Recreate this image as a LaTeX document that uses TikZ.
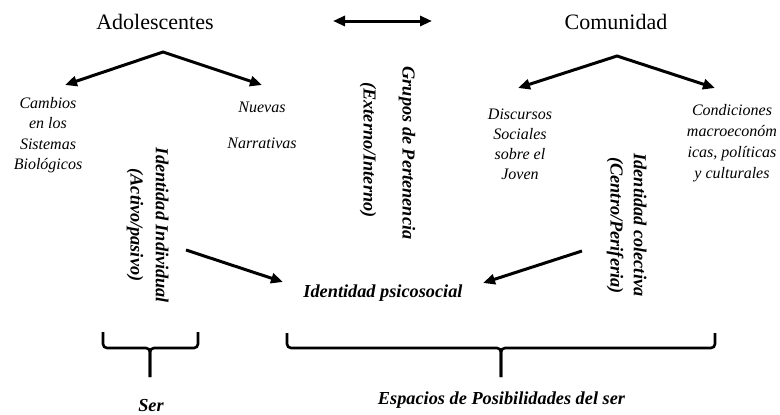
\documentclass[tikz,border=0pt]{standalone}
\usepackage{fontspec}
\setmainfont{Liberation Serif}
\usetikzlibrary{arrows.meta}
\tikzset{
  title/.style={font=\fontsize{22}{26}\selectfont, inner sep=0pt, anchor=base},
  lab/.style={font=\fontsize{16}{20.5}\selectfont\itshape, align=center, inner sep=0pt, anchor=north},
  vt/.style={font=\fontsize{18.3}{22}\selectfont\bfseries\itshape, rotate=-90, inner sep=0pt},
  bi/.style={font=\fontsize{18.3}{22}\selectfont\bfseries\itshape, inner sep=0pt, anchor=base},
  arr/.style={line width=3pt, -{Triangle[length=12pt,width=10pt]}},
  darr/.style={line width=3pt, {Triangle[length=12pt,width=10pt]}-{Triangle[length=12pt,width=10pt]}},
  brace/.style={line width=2.6pt, rounded corners=4pt}
}
\begin{document}
\begin{tikzpicture}[x=1pt,y=-1pt]
\useasboundingbox (0,0) rectangle (780,415);
% titles
\node[title] (ado) at (155,30) {Adolescentes};
\node[title] (com) at (616,30) {Comunidad};
% double arrow
\coordinate (dl) at (333,21);
\coordinate (dr) at (432,21);
\draw[darr] (dl) -- (dr);
% forks
\coordinate (apa) at (163,52);
\coordinate (al) at (65,85);
\coordinate (ar) at (262,85);
\draw[darr, line join=miter] (al) -- (apa) -- (ar);
\coordinate (apc) at (617,56);
\coordinate (cl) at (518,88);
\coordinate (cr) at (715,88);
\draw[darr, line join=miter] (cl) -- (apc) -- (cr);
% italic labels
\node[lab] (cam) at (48,97) {Cambios\\en los\\Sistemas\\Biológicos};
\node[lab] (nue) at (262,102) {Nuevas\\[15.5pt]Narrativas};
\node[lab, font=\fontsize{16}{20}\selectfont\itshape] (dis) at (520,109) {Discursos\\Sociales\\sobre el\\Joven};
\node[lab, font=\fontsize{16}{21}\selectfont\itshape] (con) at (732,104) {Condiciones\\macroeconóm\\icas, políticas\\y culturales};
% vertical labels
\node[vt] (gru) at (407,153) {Grupos de Pertenencia};
\node[vt] (ext) at (368,150) {(Externo/Interno)};
\node[vt] (idi) at (162,225.5) {Identidad Individual};
\node[vt] (act) at (135,225) {(Activo/pasivo)};
\node[vt] (idc) at (640,225) {Identidad colectiva};
\node[vt] (cen) at (615,225.5) {(Centro/Periferia)};
% central
\node[bi] (psi) at (383,297) {Identidad psicosocial};
\coordinate (a1s) at (186,250);
\coordinate (a1e) at (283,282);
\coordinate (a2s) at (582,251);
\coordinate (a2e) at (483,283);
\draw[arr] (a1s) -- (a1e);
\draw[arr] (a2s) -- (a2e);
% braces
\coordinate (sbl) at (103,332);
\coordinate (sbr) at (198,332);
\coordinate (sbs) at (150,377);
\draw[brace] (sbl) -- (103,348) -- (150,348) -- (sbs);
\draw[brace] (sbr) -- (198,348) -- (150,348) -- (sbs);
\coordinate (bbl) at (287,333);
\coordinate (bbr) at (715,333);
\coordinate (bbs) at (501,377);
\draw[brace] (bbl) -- (287,348) -- (501,348) -- (bbs);
\draw[brace] (bbr) -- (715,348) -- (501,348) -- (bbs);
\node[bi] (ser) at (151,411) {Ser};
\node[bi] (esp) at (501.5,404) {Espacios de Posibilidades del ser};
\end{tikzpicture}
\end{document}
